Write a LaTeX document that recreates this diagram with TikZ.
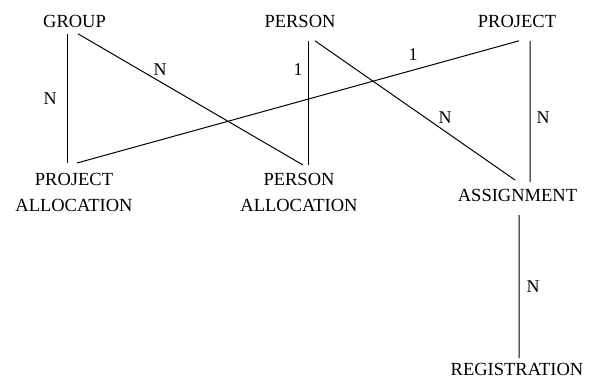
\documentclass[tikz,border=0pt]{standalone}
\usepackage{fontspec}
\setmainfont{Liberation Serif}
\usetikzlibrary{calc}
\begin{document}
\begin{tikzpicture}[x=1bp,y=-1bp,
  ent/.style={font=\fontsize{18.5bp}{26bp}\selectfont, inner sep=0pt, anchor=north, align=center},
  card/.style={font=\fontsize{18bp}{20bp}\selectfont, inner sep=0pt},
  rel/.style={line width=1bp}]
\useasboundingbox (0,0) rectangle (595,384);

% entities
\node[ent] (group)   at (74.5,15)  {GROUP};
\node[ent] (person)  at (300,15)   {PERSON};
\node[ent] (project) at (517,15)   {PROJECT};
\node[ent] (pa)      at (74,173)   {PROJECT\\ALLOCATION};
\node[ent] (pea)     at (299,173)  {PERSON\\ALLOCATION};
\node[ent] (asg)     at (517.5,189) {ASSIGNMENT};
\node[ent] (reg)     at (517,363)  {REGISTRATION};

% relationships
\draw[rel] ($(group.south)+(-7.5,6)$) -- ($(pa.north)+(-7,-10)$);
\draw[rel] ($(group.south)+(3.5,6)$) -- ($(pea.north)+(4,-8)$);
\draw[rel] ($(person.south)+(8,13)$) -- ($(pea.north)+(9,-8)$);
\draw[rel] ($(person.south)+(15,13)$) -- ($(asg.north)+(-2.5,-9)$);
\draw[rel] ($(project.south)+(13,13)$) -- ($(asg.north)+(12.5,-7)$);
\draw[rel] ($(project.south)+(2,13)$) -- ($(pa.north)+(3,-10)$);
\draw[rel] ($(asg.north)+(1.5,26)$) -- ($(reg.north)+(2,-5)$);

% cardinalities
\node[card] (c1) at (50,99)   {N};
\node[card] (c2) at (160,70)  {N};
\node[card] (c3) at (298,70)  {1};
\node[card] (c4) at (413,55)  {1};
\node[card] (c5) at (445,118) {N};
\node[card] (c6) at (543,118) {N};
\node[card] (c7) at (533,287) {N};
\end{tikzpicture}
\end{document}
